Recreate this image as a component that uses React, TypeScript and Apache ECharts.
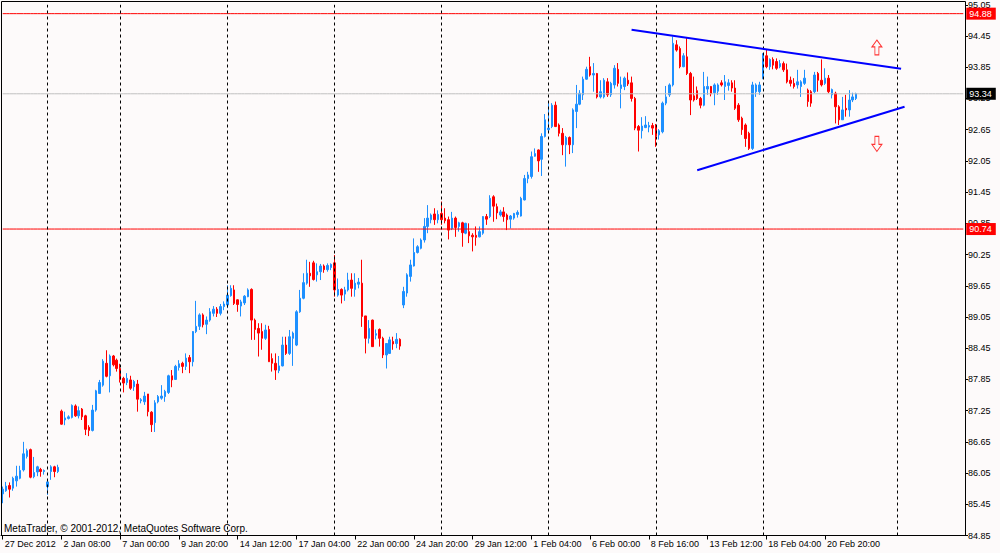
import React, { useEffect, useRef } from "react";
import * as echarts from "echarts";

// Each bar: [open, high, low, close]
const week0: number[][] = [
  [85.65, 85.79, 85.47, 85.74], [85.71, 85.88, 85.69, 85.8], [85.81, 85.87, 85.58, 85.74],
  [85.76, 85.98, 85.71, 85.95], [85.9, 86.19, 85.79, 85.99], [85.95, 86.19, 85.93, 86.1],
  [86.11, 86.65, 86.08, 86.42], [86.37, 86.52, 86.33, 86.48], [86.5, 86.52, 85.95, 85.97],
  [85.98, 86.36, 85.95, 86.06], [86.07, 86.19, 85.99, 86.17], [86.12, 86.15, 85.98, 86.08],
  [86.08, 86.12, 86.02, 86.1],
];
const week1: number[][] = [
  [85.79, 85.92, 85.63, 85.88], [86.08, 86.2, 85.92, 86.17], [86.17, 86.19, 85.97, 86.08],
  [86.08, 86.21, 86.05, 86.16],
  [87.24, 87.27, 86.98, 86.99], [87.07, 87.23, 86.97, 87.11], [87.1, 87.16, 87.08, 87.13],
  [87.12, 87.37, 87.1, 87.35], [87.34, 87.37, 87.13, 87.15], [87.15, 87.33, 87.1, 87.25],
  [87.28, 87.3, 87.07, 87.13], [87.15, 87.17, 86.78, 86.89], [86.93, 86.97, 86.76, 86.87],
  [86.87, 87.36, 86.85, 87.26], [87.26, 87.65, 87.23, 87.63], [87.58, 87.84, 87.57, 87.79],
  [87.74, 88.24, 87.71, 88.2], [88.16, 88.41, 87.89, 87.91], [87.92, 88.33, 87.6, 88.3],
  [88.3, 88.32, 88.1, 88.13], [88.22, 88.25, 88.0, 88.06],
];
const week2: number[][] = [
  [88.06, 88.15, 87.79, 87.85], [87.87, 87.9, 87.6, 87.78], [87.79, 87.97, 87.74, 87.87],
  [87.84, 87.92, 87.65, 87.68], [87.71, 87.84, 87.63, 87.81], [87.76, 87.84, 87.23, 87.47],
  [87.44, 87.49, 87.39, 87.46], [87.42, 87.61, 87.36, 87.53], [87.57, 87.57, 87.14, 87.23],
  [87.22, 87.24, 86.84, 86.98], [87.02, 87.45, 86.84, 87.4], [87.42, 87.55, 87.39, 87.52],
  [87.49, 87.74, 87.46, 87.53], [87.52, 87.65, 87.42, 87.62], [87.6, 87.94, 87.57, 87.92],
  [87.92, 88.03, 87.7, 87.84], [87.85, 88.13, 87.84, 88.1], [88.08, 88.22, 88.02, 88.15],
  [88.16, 88.19, 87.97, 88.1], [88.1, 88.35, 88.03, 88.26], [88.27, 88.32, 87.97, 88.19],
  [88.19, 88.78, 88.1, 88.77], [88.77, 89.36, 88.74, 88.87], [88.87, 89.12, 88.8, 89.09],
  [89.09, 89.12, 88.85, 88.9], [88.91, 89.06, 88.72, 88.99], [88.99, 89.22, 88.96, 89.15],
  [89.12, 89.26, 89.06, 89.2], [89.2, 89.24, 89.05, 89.12], [89.12, 89.3, 89.08, 89.25],
  [89.25, 89.35, 89.18, 89.3],
];
const week3: number[][] = [
  [89.28, 89.66, 89.22, 89.47], [89.46, 89.66, 89.44, 89.6], [89.57, 89.66, 89.28, 89.31],
  [89.38, 89.39, 89.15, 89.29], [89.26, 89.38, 89.06, 89.34], [89.32, 89.47, 89.28, 89.45],
  [89.44, 89.6, 89.43, 89.57], [89.58, 89.6, 88.61, 88.99], [88.99, 89.02, 88.61, 88.81],
  [88.83, 88.93, 88.29, 88.74], [88.77, 88.93, 88.42, 88.64], [88.64, 88.9, 88.61, 88.8],
  [88.81, 88.88, 88.19, 88.19], [88.25, 88.35, 88.0, 88.16], [88.16, 88.35, 87.84, 88.03],
  [88.02, 88.3, 87.97, 88.11], [88.11, 88.67, 88.1, 88.51], [88.51, 88.67, 88.32, 88.35],
  [88.35, 88.8, 88.32, 88.67], [88.64, 88.77, 88.11, 88.74], [88.51, 89.18, 88.49, 89.15],
  [89.15, 89.57, 89.13, 89.41], [89.41, 89.89, 89.39, 89.71], [89.7, 90.15, 89.67, 89.89],
  [89.89, 90.11, 89.63, 89.84], [90.09, 90.13, 89.75, 89.77], [89.86, 90.08, 89.73, 89.92],
  [89.92, 90.07, 89.76, 90.03], [90.03, 90.06, 89.9, 89.96], [89.96, 90.08, 89.92, 90.04],
  [90.0, 90.08, 89.95, 90.06],
];
const week4: number[][] = [
  [90.09, 90.24, 89.44, 89.57], [89.47, 89.79, 89.44, 89.58], [89.58, 89.6, 89.31, 89.47],
  [89.49, 89.63, 89.36, 89.57], [89.57, 89.9, 89.54, 89.76], [89.76, 89.89, 89.44, 89.6],
  [89.58, 89.89, 89.44, 89.7], [89.68, 89.8, 89.6, 89.72], [89.7, 90.15, 88.86, 89.06],
  [89.07, 89.07, 88.35, 88.64], [88.64, 88.99, 88.54, 88.83], [88.99, 89.0, 88.48, 88.48],
  [88.7, 88.81, 88.62, 88.73], [88.81, 88.83, 88.48, 88.64], [88.64, 88.67, 88.26, 88.32],
  [88.32, 88.54, 88.06, 88.54], [88.35, 88.67, 88.34, 88.61], [88.58, 88.67, 88.42, 88.53],
  [88.54, 88.74, 88.45, 88.62], [88.62, 88.64, 88.42, 88.49], [89.28, 89.63, 89.22, 89.54],
  [89.51, 89.89, 89.44, 89.86], [89.83, 90.15, 89.73, 90.05], [90.03, 90.56, 90.02, 90.29],
  [90.29, 90.43, 90.27, 90.4], [90.37, 90.56, 90.35, 90.53], [90.53, 90.95, 90.48, 90.79],
  [90.79, 91.2, 90.66, 90.95], [90.92, 91.04, 90.85, 91.01], [91.03, 91.14, 90.82, 90.92],
  [90.92, 91.1, 90.85, 91.02],
];
const week5: number[][] = [
  [91.04, 91.27, 90.82, 90.92], [90.95, 91.14, 90.85, 90.9], [90.92, 90.98, 90.54, 90.72],
  [90.75, 91.07, 90.72, 90.95], [90.95, 90.98, 90.59, 90.77], [90.79, 90.88, 90.69, 90.86],
  [90.86, 90.88, 90.4, 90.67], [90.66, 90.86, 90.64, 90.85], [90.69, 90.85, 90.47, 90.61],
  [90.62, 90.66, 90.31, 90.59], [90.62, 90.79, 90.42, 90.58], [90.59, 90.79, 90.58, 90.69],
  [90.66, 90.99, 90.63, 90.98], [90.98, 91.03, 90.82, 90.93], [90.98, 91.39, 90.95, 91.33],
  [91.36, 91.39, 90.88, 91.18], [91.17, 91.23, 90.93, 91.05], [91.01, 91.11, 90.98, 91.07],
  [91.07, 91.16, 90.88, 90.98], [91.01, 91.04, 90.72, 90.92], [90.93, 91.01, 90.75, 90.99],
  [90.95, 91.05, 90.92, 91.04], [91.02, 91.1, 90.96, 91.06], [90.99, 91.36, 90.98, 91.33],
  [91.3, 91.78, 91.29, 91.71], [91.71, 91.84, 91.62, 91.78], [91.75, 92.23, 91.71, 92.13],
  [92.14, 92.29, 92.13, 92.19], [92.26, 92.27, 91.84, 92.05], [92.08, 92.58, 91.76, 92.52],
  [92.52, 92.95, 92.5, 92.84],
];
const week6: number[][] = [
  [92.65, 93.16, 92.61, 92.68], [92.71, 93.16, 92.68, 93.12], [93.12, 93.19, 92.7, 92.71],
  [92.74, 92.77, 92.52, 92.58], [92.58, 92.68, 92.16, 92.36], [92.36, 92.53, 91.94, 92.5],
  [92.5, 92.52, 92.18, 92.36], [92.36, 93.06, 92.2, 93.03], [93.0, 93.51, 92.68, 93.14],
  [93.14, 93.41, 93.12, 93.35], [93.32, 93.67, 93.22, 93.62], [93.62, 93.86, 93.61, 93.81],
  [93.86, 94.05, 93.67, 93.7], [93.7, 93.93, 93.38, 93.73], [93.73, 93.74, 93.25, 93.28],
  [93.28, 93.6, 93.25, 93.38], [93.28, 93.64, 93.25, 93.6], [93.57, 93.64, 93.28, 93.32],
  [93.32, 93.57, 93.28, 93.54], [93.51, 93.89, 93.44, 93.83], [93.81, 93.93, 93.48, 93.54],
  [93.44, 93.67, 93.06, 93.51], [93.48, 93.67, 93.41, 93.64], [93.6, 93.75, 93.49, 93.53],
  [93.55, 93.67, 93.19, 93.25], [93.25, 93.28, 92.64, 92.68], [92.71, 92.74, 92.23, 92.64],
  [92.63, 92.89, 92.48, 92.72], [92.69, 92.91, 92.68, 92.74], [92.7, 92.8, 92.6, 92.73],
  [92.73, 92.78, 92.55, 92.68],
];
const week7: number[][] = [
  [92.72, 92.76, 92.32, 92.53], [92.55, 92.66, 92.46, 92.63], [92.61, 93.19, 92.58, 93.16],
  [93.16, 93.49, 93.12, 93.28], [93.32, 93.54, 93.28, 93.51], [93.51, 94.44, 93.48, 94.31],
  [94.28, 94.37, 94.15, 94.18], [94.21, 94.25, 93.83, 93.86], [93.86, 94.12, 93.85, 94.07],
  [94.05, 94.41, 93.7, 93.73], [93.73, 93.76, 92.93, 93.22], [93.3, 93.67, 93.19, 93.22],
  [93.4, 93.48, 93.22, 93.25], [93.25, 93.28, 93.06, 93.12], [93.12, 93.76, 93.1, 93.48],
  [93.43, 93.67, 93.32, 93.48], [93.48, 93.49, 93.29, 93.34], [93.36, 93.54, 93.12, 93.51],
  [93.39, 93.54, 93.32, 93.51], [93.55, 93.6, 93.48, 93.51], [93.48, 93.7, 93.22, 93.57],
  [93.5, 93.62, 93.4, 93.55], [93.55, 93.6, 93.38, 93.45], [93.45, 93.6, 93.03, 93.06],
  [93.12, 93.16, 92.8, 92.84], [92.87, 92.9, 92.55, 92.65], [92.74, 92.77, 92.32, 92.48],
  [92.58, 92.61, 92.26, 92.29], [92.29, 93.57, 92.26, 93.51], [93.38, 93.54, 93.28, 93.51],
  [93.38, 93.57, 93.32, 93.51],
];
const week8: number[][] = [
  [93.64, 94.12, 93.62, 94.08], [94.07, 94.18, 93.83, 93.86], [93.86, 94.02, 93.8, 94.0],
  [94.0, 94.04, 93.81, 93.89], [93.96, 94.02, 93.8, 93.83], [93.86, 93.99, 93.83, 93.92],
  [93.92, 93.96, 93.76, 93.8], [93.8, 93.92, 93.54, 93.57], [93.6, 93.67, 93.48, 93.54],
  [93.54, 93.64, 93.44, 93.48], [93.51, 93.8, 93.44, 93.57], [93.48, 93.6, 93.28, 93.57],
  [93.54, 93.8, 93.51, 93.64], [93.41, 93.44, 93.09, 93.19], [93.38, 93.41, 93.09, 93.16],
  [93.38, 93.76, 93.35, 93.7], [93.73, 93.76, 93.38, 93.6], [93.6, 94.0, 93.48, 93.51],
  [93.54, 93.83, 93.51, 93.64], [93.64, 93.7, 93.35, 93.38], [93.32, 93.44, 93.25, 93.42],
  [93.35, 93.38, 92.77, 93.09], [93.09, 93.12, 92.74, 92.84], [92.84, 93.28, 92.84, 93.03],
  [93.06, 93.32, 92.9, 93.03], [93.03, 93.41, 92.9, 93.22], [93.22, 93.36, 93.18, 93.28],
  [93.25, 93.36, 93.22, 93.34],
];

const tickLabels: [number, string][] = [
  [0, "27 Dec 2012"], [17, "2 Jan 08:00"], [34, "7 Jan 00:00"], [51, "9 Jan 20:00"],
  [68, "14 Jan 12:00"], [85, "17 Jan 04:00"], [102, "22 Jan 00:00"], [119, "24 Jan 20:00"],
  [136, "29 Jan 12:00"], [153, "1 Feb 04:00"], [170, "6 Feb 00:00"], [187, "8 Feb 16:00"],
  [204, "13 Feb 12:00"], [221, "18 Feb 04:00"], [238, "20 Feb 20:00"],
];
const weekStarts = [13, 34, 65, 96, 127, 158, 189, 220, 259];
const levelLines = [94.88, 90.74];
const lastPrice = 93.34;
const upperTrend = [[182, 94.57], [260, 93.82]];
const lowerTrend = [[201, 91.87], [261, 93.09]];
const arrowUp = [253, 94.23];
const arrowDown = [253, 92.375];
const SLOTS = 279;
const yMin = 84.85;
const yMax = 95.05;
const yStep = 0.6;

const UP_PATH = "path://M5,0 L10,7 L7,7 L7,15 L3,15 L3,7 L0,7 Z";
const DOWN_PATH = "path://M3,0 L7,0 L7,8 L10,8 L5,15 L0,8 L3,8 Z";
const FONT = '"Liberation Sans", Arial, sans-serif';

function levelSeries(level: number, lineColor: string, tagColor: string, count: number) {
  return {
    type: "line",
    data: Array.from({ length: count }, () => level),
    symbol: "none",
    showSymbol: false,
    silent: true,
    z: 3,
    lineStyle: { color: lineColor, width: 1, type: "solid" },
    itemStyle: { color: lineColor },
    endLabel: {
      show: true,
      formatter: () => level.toFixed(2),
      backgroundColor: tagColor,
      color: "#ffffff",
      fontSize: 9,
      fontFamily: FONT,
      padding: [2, 4, 1, 3],
      distance: 3,
    },
  };
}

function buildOption() {
  const bars = [...week0, ...week1, ...week2, ...week3, ...week4, ...week5, ...week6, ...week7, ...week8];
  const candles = bars.map(([o, h, l, c]) => [o, c, l, h]);
  const categories = Array.from({ length: SLOTS }, (_, i) => String(i));
  const labelMap = new Map<number, string>(tickLabels);

  return {
    animation: false,
    backgroundColor: "#fdfafa",
    textStyle: { fontFamily: FONT },
    grid: { left: 1, right: 35, top: 4.8, bottom: 17.5, show: false },
    xAxis: {
      type: "category",
      data: categories,
      boundaryGap: true,
      axisLine: { show: true, lineStyle: { color: "#000000", width: 1 } },
      axisTick: {
        show: true,
        alignWithLabel: true,
        length: 4,
        interval: (i: number) => labelMap.has(i),
        lineStyle: { color: "#000000" },
      },
      axisLabel: {
        show: true,
        interval: 0,
        formatter: (_v: string, i: number) => labelMap.get(i) ?? "",
        align: "left",
        color: "#000000",
        fontSize: 9,
        margin: 4,
        padding: [0, 0, 0, 2],
      },
      splitLine: { show: false },
    },
    yAxis: {
      type: "value",
      position: "right",
      min: yMin,
      max: yMax,
      interval: yStep,
      axisLine: { show: true, lineStyle: { color: "#000000" } },
      axisTick: { show: true, length: 3, lineStyle: { color: "#000000" } },
      axisLabel: {
        color: "#000000",
        fontSize: 9,
        margin: 3,
        formatter: (v: number) => v.toFixed(2),
      },
      splitLine: { show: false },
    },
    graphic: [
      {
        type: "rect",
        silent: true,
        z: 100,
        shape: { x: 1.5, y: 1.5, width: 964, height: 534 },
        style: { fill: "none", stroke: "#000000", lineWidth: 1 },
      },
      {
        type: "text",
        left: 4,
        top: 523,
        z: 100,
        style: {
          text: "MetaTrader, © 2001-2012, MetaQuotes Software Corp.",
          fill: "#000000",
          font: `10px ${FONT}`,
        },
      },
    ],
    series: [
      {
        type: "candlestick",
        data: candles,
        barWidth: 2,
        itemStyle: {
          color: "#1e90ff",
          color0: "#ff0000",
          borderColor: "#1e90ff",
          borderColor0: "#ff0000",
          borderWidth: 1,
        },
        markLine: {
          silent: true,
          symbol: ["none", "none"],
          animation: false,
          label: { show: false },
          lineStyle: { color: "#000000", type: [3, 3], width: 1 },
          data: weekStarts.map((i) => ({ xAxis: i })),
        },
      },
      levelSeries(lastPrice, "#c0c0c0", "#000000", SLOTS),
      ...levelLines.map((v) => levelSeries(v, "#ff0000", "#ff0000", SLOTS)),
      {
        type: "line",
        data: [],
        markLine: {
          silent: true,
          symbol: ["none", "none"],
          animation: false,
          label: { show: false },
          lineStyle: { color: "#0000ff", type: "solid", width: 2 },
          data: [
            [{ coord: upperTrend[0] }, { coord: upperTrend[1] }],
            [{ coord: lowerTrend[0] }, { coord: lowerTrend[1] }],
          ],
        },
      },
      {
        type: "scatter",
        silent: true,
        symbolSize: [10, 15],
        itemStyle: { color: "rgba(0,0,0,0)", borderColor: "#ff0000", borderWidth: 1 },
        data: [
          { value: arrowUp, symbol: UP_PATH },
          { value: arrowDown, symbol: DOWN_PATH },
        ],
      },
    ],
  };
}

export default function App() {
  const ref = useRef<HTMLDivElement>(null);
  useEffect(() => {
    document.body.style.margin = "0";
    document.body.style.overflow = "hidden";
    const chart = echarts.init(ref.current as HTMLDivElement, null, { renderer: "svg" });
    chart.setOption(buildOption() as any);
    return () => chart.dispose();
  }, []);
  return (
    <div
      ref={ref}
      style={{ width: 1000, height: 553, position: "absolute", left: 0, top: 0 }}
    />
  );
}
